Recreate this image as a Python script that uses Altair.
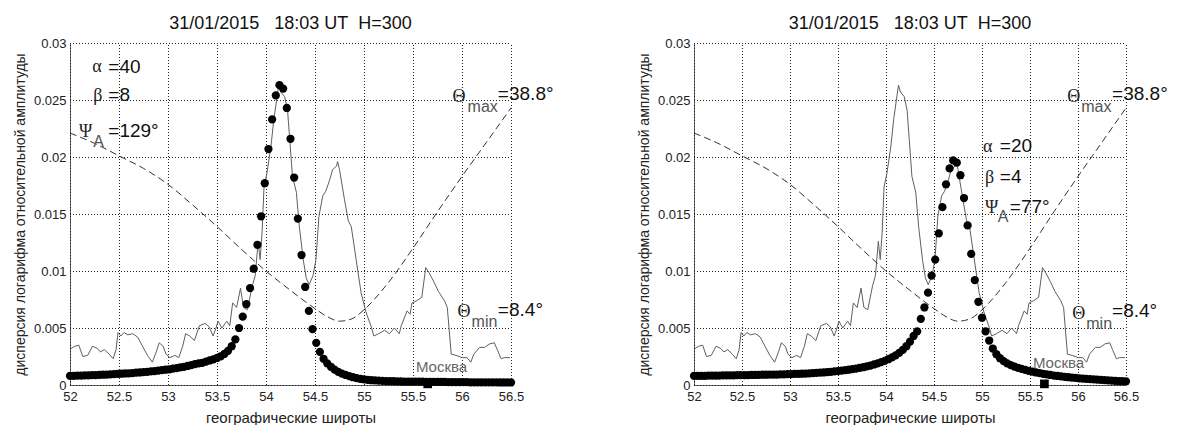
import altair as alt
import pandas as pd

# ---------------- data ----------------
TITLE = "31/01/2015\u00a0\u00a0\u00a018:03 UT\u00a0\u00a0H=300"
Y_TITLE = "дисперсия логарифма относительной амплитуды"
X_TITLE = "географические широты"
X_TICKS = [52, 52.5, 53, 53.5, 54, 54.5, 55, 55.5, 56, 56.5]
Y_TICKS = [0, 0.005, 0.01, 0.015, 0.02, 0.025, 0.03]

# observed variance (thin grey line, same in both panels)
OBS_LAT = [52.01, 52.05, 52.09, 52.13, 52.18, 52.23, 52.28, 52.31, 52.35, 52.40,
           52.44, 52.47, 52.49, 52.52, 52.55, 52.59, 52.64, 52.69, 52.74, 52.79,
           52.84, 52.88, 52.91, 52.95, 52.98, 53.02, 53.07, 53.11, 53.15, 53.18,
           53.22, 53.27, 53.32, 53.38, 53.42, 53.46, 53.49, 53.51, 53.55, 53.60,
           53.63, 53.66, 53.70, 53.74, 53.77, 53.81, 53.86, 53.89, 53.92, 53.94,
           53.96, 53.98, 54.01, 54.05, 54.08, 54.13, 54.15, 54.19, 54.22, 54.24,
           54.27, 54.31, 54.34, 54.38, 54.41, 54.44, 54.48, 54.51, 54.54, 54.58,
           54.61, 54.65, 54.68, 54.72, 54.73, 54.75, 54.80, 54.84, 54.87, 54.92,
           54.97, 55.02, 55.07, 55.10, 55.15, 55.21, 55.26, 55.31, 55.36, 55.38,
           55.44, 55.47, 55.49, 55.54, 55.59, 55.63, 55.66, 55.71, 55.76, 55.82,
           55.85, 55.89, 55.94, 56.00, 56.05, 56.09, 56.12, 56.18, 56.23, 56.28,
           56.33, 56.36, 56.40, 56.43, 56.49]
OBS_VAL = [0.0032, 0.0034, 0.0035, 0.0025, 0.0026, 0.0034, 0.0032, 0.0029, 0.0031, 0.0027,
           0.0023, 0.0031, 0.0046, 0.0043, 0.0046, 0.0044, 0.0045, 0.0042, 0.0034, 0.0026,
           0.0020, 0.0029, 0.0037, 0.0034, 0.0027, 0.0024, 0.0026, 0.0024, 0.0034, 0.0045,
           0.0043, 0.0039, 0.0052, 0.0054, 0.0051, 0.0043, 0.0050, 0.0056, 0.0050, 0.0056,
           0.0052, 0.0072, 0.0068, 0.0085, 0.0068, 0.0066, 0.0087, 0.0096, 0.0126, 0.0110,
           0.0134, 0.0174, 0.0186, 0.0209, 0.0233, 0.0263, 0.0257, 0.0253, 0.0241, 0.0218,
           0.0183, 0.0169, 0.0139, 0.0110, 0.0094, 0.0088, 0.0096, 0.0110, 0.0148, 0.0166,
           0.0170, 0.0180, 0.0189, 0.0192, 0.0196, 0.0189, 0.0163, 0.0144, 0.0139, 0.0110,
           0.0081, 0.0064, 0.0052, 0.0043, 0.0045, 0.0048, 0.0045, 0.0050, 0.0045, 0.0052,
           0.0065, 0.0062, 0.0072, 0.0074, 0.0077, 0.0103, 0.0099, 0.0091, 0.0082, 0.0074,
           0.0068, 0.0027, 0.0026, 0.0024, 0.0024, 0.0020, 0.0027, 0.0033, 0.0033, 0.0036,
           0.0037, 0.0031, 0.0023, 0.0024, 0.0024]

# dashed Theta curve (same in both panels)
THETA_LAT = [52.00, 52.25, 52.50, 52.75, 53.00, 53.25, 53.50, 53.75, 54.00, 54.25,
             54.50, 54.625, 54.75, 54.875, 55.00, 55.25, 55.50, 55.75, 56.00, 56.25, 56.50]
THETA_VAL = [0.0221, 0.0212, 0.0201, 0.0190, 0.0176, 0.0158, 0.0139, 0.0119, 0.0100, 0.0083,
             0.0067, 0.0060, 0.0056, 0.0058, 0.0066, 0.0090, 0.0120, 0.0152, 0.0183, 0.0213, 0.0243]

# model latitude grid (dots)
MODEL_LAT = [round(52 + i * 0.0375, 4) for i in range(121)]

MODEL_LEFT = [0.00080, 0.00081, 0.00082, 0.00083, 0.00084, 0.00085, 0.00086, 0.00087, 0.00089, 0.00090,
              0.00092, 0.00093, 0.00095, 0.00097, 0.00099, 0.00101, 0.00103, 0.00105, 0.00108, 0.00110,
              0.00113, 0.00116, 0.00119, 0.00122, 0.00126, 0.00130, 0.00134, 0.00138, 0.00143, 0.00148,
              0.00154, 0.00160, 0.00167, 0.00175, 0.00184, 0.00190, 0.00195, 0.00205, 0.00215, 0.00225,
              0.00237, 0.00252, 0.00272, 0.00300, 0.00340, 0.00400, 0.00500, 0.00600, 0.00710, 0.00850,
              0.01020, 0.01230, 0.01480, 0.01770, 0.02070, 0.02330, 0.02540, 0.02630, 0.02600, 0.02430,
              0.02160, 0.01820, 0.01460, 0.01140, 0.00860, 0.00650, 0.00490, 0.00370, 0.00290, 0.00230,
              0.00190, 0.00160, 0.00135, 0.00115, 0.00100, 0.00088, 0.00078, 0.00068, 0.00060, 0.00054,
              0.00049, 0.00045, 0.00042, 0.00040, 0.00038, 0.00036, 0.00035, 0.00034, 0.00033, 0.00032,
              0.00031, 0.00030, 0.00030, 0.00030, 0.00029, 0.00029, 0.00029, 0.00028, 0.00028, 0.00028,
              0.00027, 0.00027, 0.00027, 0.00026, 0.00026, 0.00026, 0.00025, 0.00025, 0.00025, 0.00024,
              0.00024, 0.00024, 0.00024, 0.00023, 0.00023, 0.00023, 0.00023, 0.00022, 0.00022, 0.00022,
              0.00022]

MODEL_RIGHT = [0.00080, 0.00080, 0.00081, 0.00081, 0.00082, 0.00082, 0.00083, 0.00083, 0.00084, 0.00084,
               0.00085, 0.00085, 0.00086, 0.00086, 0.00087, 0.00087, 0.00088, 0.00088, 0.00089, 0.00090,
               0.00090, 0.00091, 0.00092, 0.00092, 0.00093, 0.00094, 0.00095, 0.00096, 0.00097, 0.00098,
               0.00099, 0.00100, 0.00102, 0.00104, 0.00106, 0.00108, 0.00110, 0.00113, 0.00116, 0.00119,
               0.00122, 0.00126, 0.00130, 0.00134, 0.00139, 0.00144, 0.00150, 0.00156, 0.00163, 0.00171,
               0.00180, 0.00190, 0.00200, 0.00212, 0.00226, 0.00242, 0.00260, 0.00282, 0.00308, 0.00340,
               0.00380, 0.00430, 0.00470, 0.00580, 0.00680, 0.00810, 0.00960, 0.01100, 0.01330, 0.01560,
               0.01760, 0.01900, 0.01970, 0.01950, 0.01840, 0.01640, 0.01400, 0.01150, 0.00920, 0.00730,
               0.00590, 0.00470, 0.00390, 0.00320, 0.00270, 0.00235, 0.00210, 0.00190, 0.00175, 0.00162,
               0.00151, 0.00141, 0.00132, 0.00124, 0.00117, 0.00110, 0.00104, 0.00098, 0.00093, 0.00088,
               0.00083, 0.00079, 0.00075, 0.00071, 0.00068, 0.00065, 0.00062, 0.00059, 0.00056, 0.00053,
               0.00051, 0.00049, 0.00047, 0.00045, 0.00043, 0.00041, 0.00039, 0.00037, 0.00035, 0.00034,
               0.00032]

MOSCOW_LAT = 55.65
MOSCOW_LABEL = "Москва"

# annotation texts: (kind, text)
LEFT_TEXT = [("g", "α"), ("g", "β"), ("g", "Ψ"), ("g", "Θ"), ("g", "Θ"),
             ("s", "A"), ("s", "max"), ("s", "min"),
             ("v", "=40"), ("v", "=8"), ("v", "=129°"), ("v", "=38.8°"), ("v", "=8.4°")]
RIGHT_TEXT = [("g", "α"), ("g", "β"), ("g", "Ψ"), ("g", "Θ"), ("g", "Θ"),
              ("s", "A"), ("s", "max"), ("s", "min"),
              ("v", "=20"), ("v", "=4"), ("v", "=77°"), ("v", "=38.8°"), ("v", "=8.4°")]

# annotation anchor positions (data coordinates, left / baseline)
LEFT_POS = [(52.227, 0.02746), (52.237, 0.0249), (52.093, 0.02178), (55.903, 0.02484), (55.954, 0.00595),
            (52.237, 0.0209), (56.057, 0.02397), (56.098, 0.00507),
            (52.391, 0.02738), (52.391, 0.02487), (52.391, 0.02178), (56.366, 0.02502), (56.366, 0.00604)]
RIGHT_POS = [(55.010, 0.02047), (55.031, 0.01776), (55.031, 0.01513), (55.889, 0.02484), (55.941, 0.00577),
             (55.165, 0.01426), (56.034, 0.02397), (56.086, 0.0049),
             (55.186, 0.02047), (55.186, 0.01776), (55.290, 0.01513), (56.355, 0.02502), (56.355, 0.00595)]
LEFT_MOSCOW_POS = (55.53, 0.00114)
RIGHT_MOSCOW_POS = (55.53, 0.0015)

FONT = "Liberation Sans"
SERIF = "Liberation Serif"
GRID = "#222"

# grid segments built from the tick arrays (each tick -> a line across the plot)
XG = pd.DataFrame({"lat": [t for t in X_TICKS for _ in range(2)],
                   "v": [Y_TICKS[0], Y_TICKS[-1]] * len(X_TICKS),
                   "g": [str(t) for t in X_TICKS for _ in range(2)]})
YG = pd.DataFrame({"lat": [X_TICKS[0], X_TICKS[-1]] * len(Y_TICKS),
                   "v": [t for t in Y_TICKS for _ in range(2)],
                   "g": [str(t) for t in Y_TICKS for _ in range(2)]})


def panel(model_vals, texts, pos, mpos, width, height):
    xs = alt.Scale(domain=[52, 56.5], nice=False, zero=False)
    ys = alt.Scale(domain=[0, 0.03], nice=False, zero=False)
    xax = alt.Axis(values=X_TICKS, format="~g", title=X_TITLE, grid=False, ticks=False,
                   domainColor="#666",
                   labelFont=FONT, labelFontSize=13, labelColor="#222", labelPadding=5,
                   titleFont=FONT, titleFontSize=15, titleFontWeight="normal", titleColor="#222",
                   titlePadding=7, labelFlush=False)
    yax = alt.Axis(values=Y_TICKS, format="~g", title=Y_TITLE, grid=False, ticks=False,
                   domainColor="#666",
                   labelFont=FONT, labelFontSize=13, labelColor="#222", labelPadding=4,
                   titleFont=FONT, titleFontSize=14, titleFontWeight="normal", titleColor="#222",
                   titlePadding=6, labelFlush=False)

    obs = pd.DataFrame({"lat": OBS_LAT, "v": OBS_VAL})
    th = pd.DataFrame({"lat": THETA_LAT, "v": THETA_VAL})
    mod = pd.DataFrame({"lat": MODEL_LAT, "v": model_vals})

    X = alt.X("lat:Q", scale=xs, axis=xax)
    Y = alt.Y("v:Q", scale=ys, axis=yax)

    xgrid = alt.Chart(XG).mark_line(color=GRID, strokeWidth=1, strokeDash=[1, 2],
                                    xOffset=0.5).encode(x=X, y=Y, detail="g:N")
    ygrid = alt.Chart(YG).mark_line(color=GRID, strokeWidth=1, strokeDash=[1, 2],
                                    yOffset=0.5).encode(x=X, y=Y, detail="g:N")
    obs_layer = alt.Chart(obs).mark_line(color="#5f5f5f", strokeWidth=1).encode(x=X, y=Y)
    theta_layer = alt.Chart(th).mark_line(color="#333", strokeWidth=1, strokeDash=[7, 4],
                                          interpolate="monotone").encode(x=X, y=Y)
    dots = alt.Chart(mod).mark_circle(size=68, color="black", opacity=1).encode(x=X, y=Y)
    msq = alt.Chart(pd.DataFrame({"lat": [MOSCOW_LAT], "v": [0.0001]})).mark_square(
        size=75, color="black", opacity=1).encode(x=X, y=Y)
    mtxt = alt.Chart(pd.DataFrame({"lat": [mpos[0]], "v": [mpos[1]], "t": [MOSCOW_LABEL]})).mark_text(
        align="left", baseline="alphabetic", font=FONT, fontSize=15, color="#666").encode(
        x=X, y=Y, text="t:N")

    ann = pd.DataFrame({"kind": [k for k, _ in texts], "t": [t for _, t in texts],
                        "lat": [p[0] for p in pos], "v": [p[1] for p in pos]})

    def ann_layer(kind, font, size, color):
        return alt.Chart(ann).transform_filter(alt.datum.kind == kind).mark_text(
            align="left", baseline="alphabetic", font=font, fontSize=size, color=color).encode(
            x=X, y=Y, text="t:N")

    return alt.layer(
        xgrid, ygrid, obs_layer, theta_layer, dots, msq, mtxt,
        ann_layer("g", SERIF, 18, "#222"),
        ann_layer("s", FONT, 16, "#555"),
        ann_layer("v", FONT, 19, "#111"),
    ).properties(
        width=width, height=height,
        title=alt.TitleParams(TITLE, font=FONT, fontSize=18, fontWeight="normal", color="#111",
                              offset=4, anchor="middle"))


left = panel(MODEL_LEFT, LEFT_TEXT, LEFT_POS, LEFT_MOSCOW_POS, 441, 342)
right = panel(MODEL_RIGHT, RIGHT_TEXT, RIGHT_POS, RIGHT_MOSCOW_POS, 432, 342)

chart = alt.hconcat(left, right, spacing=183, bounds="flush").configure_view(
    stroke=None).properties(padding={"left": 5, "top": 7, "right": 0, "bottom": 0},
                            background="white")

chart.save("out.html", embed_options={"renderer": "svg", "actions": False})
